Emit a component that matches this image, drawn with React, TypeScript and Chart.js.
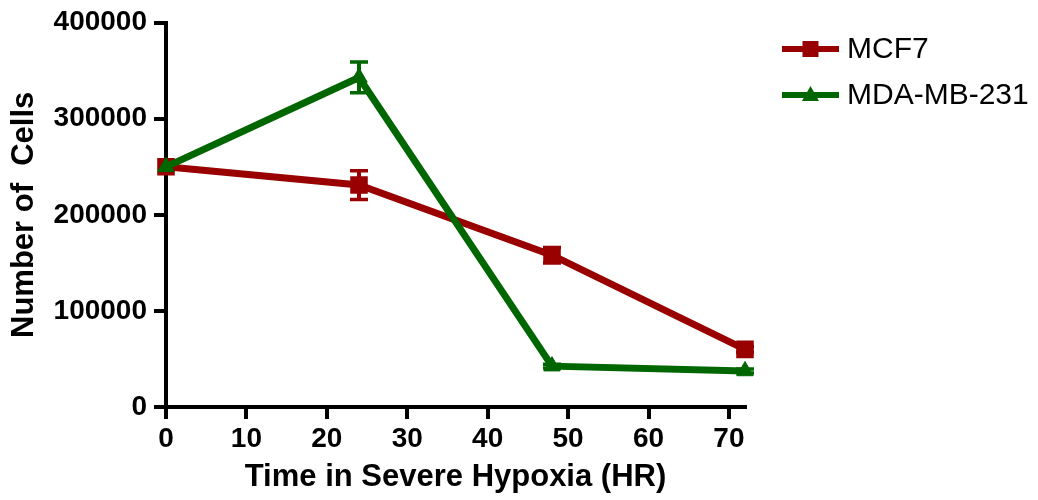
import React, { useEffect, useRef } from "react";
import { Chart, registerables } from "chart.js";

Chart.register(...registerables);

const TIMES = [0, 24, 48, 72];
const MCF7 = [250000, 231000, 158000, 60000];
const MCF7_ERR = [0, 15000, 8000, 3000];
const MDA = [250000, 343000, 42500, 37500];
const MDA_ERR = [0, 16000, 2000, 2000];
const X_TICKS = [0, 10, 20, 30, 40, 50, 60, 70];
const Y_TICKS = [0, 100000, 200000, 300000, 400000];
const SERIES_LABELS = ["MCF7", "MDA-MB-231"];
const RED = "#990000";
const GREEN = "#006600";

const FONT = "'Liberation Sans', Arial, sans-serif";

const errorBarPlugin = {
  id: "errorBars",
  afterDatasetsDraw(chart: any) {
    const ctx = chart.ctx;
    const yScale = chart.scales.y;
    chart.data.datasets.forEach((ds: any, i: number) => {
      const meta = chart.getDatasetMeta(i);
      const errs: number[] = ds.errors || [];
      ctx.save();
      ctx.strokeStyle = ds.borderColor;
      meta.data.forEach((pt: any, j: number) => {
        const e = errs[j];
        if (!e) return;
        const v = ds.data[j].y;
        const yt = yScale.getPixelForValue(v + e);
        const yb = yScale.getPixelForValue(v - e);
        ctx.lineWidth = 4;
        ctx.beginPath();
        ctx.moveTo(pt.x, yt);
        ctx.lineTo(pt.x, yb);
        ctx.stroke();
        ctx.lineWidth = 3.5;
        ctx.beginPath();
        ctx.moveTo(pt.x - 9, yt);
        ctx.lineTo(pt.x + 9, yt);
        ctx.moveTo(pt.x - 9, yb);
        ctx.lineTo(pt.x + 9, yb);
        ctx.stroke();
      });
      ctx.restore();
    });
  },
};

const legendPlugin = {
  id: "customLegend",
  afterDraw(chart: any) {
    const ctx = chart.ctx;
    const x0 = 782;
    const x1 = 839;
    const tx = 847;
    const rows = [49, 95];
    chart.data.datasets.forEach((ds: any, i: number) => {
      const y = rows[i];
      const cx = (x0 + x1) / 2;
      ctx.save();
      ctx.strokeStyle = ds.borderColor;
      ctx.fillStyle = ds.borderColor;
      ctx.lineWidth = 6;
      ctx.beginPath();
      ctx.moveTo(x0, y);
      ctx.lineTo(x1, y);
      ctx.stroke();
      if (ds.pointStyle === "rect") {
        ctx.fillRect(cx - 8, y - 8, 16, 16);
      } else {
        ctx.beginPath();
        ctx.moveTo(cx, y - 9);
        ctx.lineTo(cx + 8.5, y + 6);
        ctx.lineTo(cx - 8.5, y + 6);
        ctx.closePath();
        ctx.fill();
      }
      ctx.fillStyle = "#000";
      ctx.font = `30px ${FONT}`;
      ctx.textBaseline = "middle";
      ctx.textAlign = "left";
      ctx.fillText(ds.label, tx, y + 1);
      ctx.restore();
    });
  },
};

const zeroPad = (s: any) => {
  s.paddingTop = 0;
  s.paddingBottom = 0;
  s.paddingLeft = 0;
  s.paddingRight = 0;
};

export default function App() {
  const ref = useRef<HTMLCanvasElement | null>(null);
  useEffect(() => {
    if (!ref.current) return;
    const chart = new Chart(ref.current, {
      type: "line",
      data: {
        datasets: [
          {
            label: SERIES_LABELS[0],
            data: TIMES.map((t, i) => ({ x: t, y: MCF7[i] })),
            errors: MCF7_ERR,
            borderColor: RED,
            backgroundColor: RED,
            borderWidth: 7,
            pointStyle: "rect",
            pointRadius: 11,
            pointBorderWidth: 2,
            pointHoverRadius: 11,
            tension: 0,
            clip: false,
            order: 1,
          } as any,
          {
            label: SERIES_LABELS[1],
            data: TIMES.map((t, i) => ({ x: t, y: MDA[i] })),
            errors: MDA_ERR,
            borderColor: GREEN,
            backgroundColor: GREEN,
            borderWidth: 7,
            pointStyle: "triangle",
            pointRadius: 9.5,
            pointBorderWidth: 1,
            pointHoverRadius: 9.5,
            tension: 0,
            clip: false,
            order: 0,
          } as any,
        ],
      },
      options: {
        animation: false,
        responsive: true,
        maintainAspectRatio: false,
        layout: { padding: { left: 0, right: 293, top: 22.7, bottom: 0 } },
        plugins: { legend: { display: false }, tooltip: { enabled: false } },
        events: [],
        scales: {
          x: {
            type: "linear",
            min: 0,
            max: 72,
            z: 1,
            afterFit: (s: any) => {
              s.height = 93;
              zeroPad(s);
            },
            afterBuildTicks: (s: any) => {
              s.ticks = X_TICKS.map((v) => ({ value: v }));
            },
            border: { display: true, color: "#000", width: 4 },
            grid: {
              drawOnChartArea: false,
              drawTicks: true,
              tickLength: 12,
              color: "#000",
              lineWidth: 4,
            },
            ticks: {
              color: "#000",
              padding: 5,
              maxRotation: 0,
              font: { family: FONT, size: 28, weight: "bold", lineHeight: 1.1 },
              callback: (v: any) => String(v),
            },
            title: {
              display: true,
              text: "Time in Severe Hypoxia (HR)",
              color: "#000",
              padding: { top: 0, bottom: 7.5 },
              font: { family: FONT, size: 31, weight: "bold", lineHeight: 1 },
            },
          },
          y: {
            type: "linear",
            min: 0,
            max: 400000,
            z: 1,
            afterFit: (s: any) => {
              s.width = 166;
              zeroPad(s);
            },
            afterBuildTicks: (s: any) => {
              s.ticks = Y_TICKS.map((v) => ({ value: v }));
            },
            border: { display: true, color: "#000", width: 4 },
            grid: {
              drawOnChartArea: false,
              drawTicks: true,
              tickLength: 12,
              color: "#000",
              lineWidth: 4,
            },
            ticks: {
              color: "#000",
              padding: 7,
              font: { family: FONT, size: 28, weight: "bold" },
              callback: (v: any) => String(v),
            },
            title: {
              display: true,
              text: "Number of  Cells",
              color: "#000",
              padding: { top: 8.5, bottom: 0 },
              font: { family: FONT, size: 31, weight: "bold", lineHeight: 1 },
            },
          },
        },
      } as any,
      plugins: [errorBarPlugin, legendPlugin],
    });
    return () => chart.destroy();
  }, []);
  return (
    <div style={{ position: "absolute", left: 0, top: 0, width: 1038, height: 500 }}>
      <canvas ref={ref} />
    </div>
  );
}
